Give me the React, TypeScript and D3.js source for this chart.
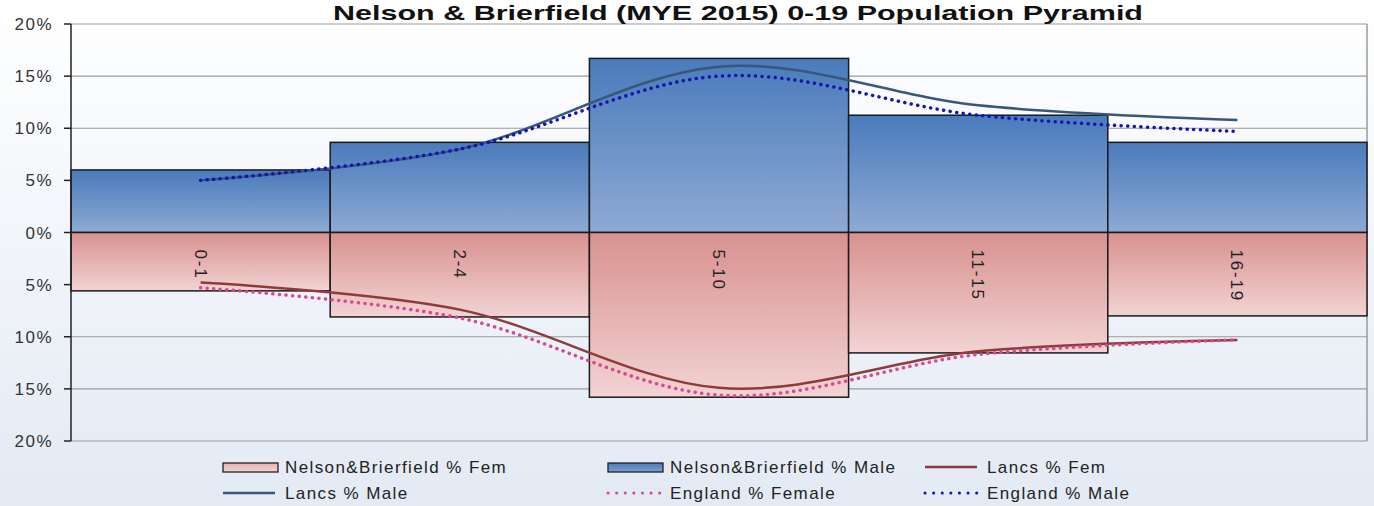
import React from "react";
import * as d3 from "d3";

const categories = ["0-1", "2-4", "5-10", "11-15", "16-19"];
const nbMale = [6.0, 8.65, 16.7, 11.25, 8.65];
const nbFemale = [5.6, 8.1, 15.8, 11.55, 8.0];
const lancsMale = [5.0, 8.0, 15.9, 12.2, 10.8];
const lancsFemale = [4.8, 7.4, 14.9, 11.4, 10.3];
const englandMale = [5.0, 8.0, 15.0, 11.25, 9.7];
const englandFemale = [5.3, 8.2, 15.6, 11.7, 10.3];
const yTicks = [20, 15, 10, 5, 0, -5, -10, -15, -20];
const title = "Nelson & Brierfield (MYE 2015) 0-19 Population Pyramid";

const W = 1374;
const H = 506;
const left = 71;
const right = 1367;
const top = 24;
const bottom = 441;

export default function App() {
  const x = d3.scaleBand<string>().domain(categories).range([left, right]).padding(0);
  const y = d3.scaleLinear().domain([-20, 20]).range([bottom, top]);
  const cx = (c: string) => (x(c) as number) + x.bandwidth() / 2;

  const line = d3
    .line<[string, number]>()
    .x((d) => cx(d[0]))
    .y((d) => y(d[1]))
    .curve(d3.curveCardinal.tension(0));

  const series = (vals: number[], sign: number) =>
    line(categories.map((c, i) => [c, sign * vals[i]] as [string, number])) || "";

  const legend = [
    { label: "Nelson&Brierfield % Fem", type: "rect", fill: "url(#legF)", x: 223, row: 0 },
    { label: "Nelson&Brierfield % Male", type: "rect", fill: "url(#legM)", x: 608, row: 0 },
    { label: "Lancs % Fem", type: "line", color: "#8e3b3b", x: 925, row: 0 },
    { label: "Lancs % Male", type: "line", color: "#37587a", x: 223, row: 1 },
    { label: "England % Female", type: "dot", color: "#d9478f", x: 608, row: 1 },
    { label: "England % Male", type: "dot", color: "#1414b4", x: 925, row: 1 },
  ];

  return (
    <svg
      width={W}
      height={H}
      style={{ position: "absolute", left: 0, top: 0, fontFamily: "Liberation Sans, Arial, sans-serif" }}
    >
      <defs>
        <linearGradient id="bg" x1="0" y1="0" x2="0" y2="1">
          <stop offset="0" stopColor="#ffffff" />
          <stop offset="1" stopColor="#e3eaf4" />
        </linearGradient>
        <linearGradient id="gM" x1="0" y1="0" x2="0" y2="1">
          <stop offset="0" stopColor="#4a7bbb" />
          <stop offset="1" stopColor="#8eaad4" />
        </linearGradient>
        <linearGradient id="gF" x1="0" y1="0" x2="0" y2="1">
          <stop offset="0" stopColor="#d8918f" />
          <stop offset="1" stopColor="#f2d3d3" />
        </linearGradient>
        <linearGradient id="legM" x1="0" y1="0" x2="0" y2="1">
          <stop offset="0" stopColor="#4a7bbb" />
          <stop offset="1" stopColor="#7d9fd0" />
        </linearGradient>
        <linearGradient id="legF" x1="0" y1="0" x2="0" y2="1">
          <stop offset="0" stopColor="#e6b3b1" />
          <stop offset="1" stopColor="#f2d3d3" />
        </linearGradient>
      </defs>
      <rect x={0} y={0} width={W} height={H} fill="url(#bg)" />

      {/* gridlines */}
      {yTicks.map((t) => (
        <line key={"g" + t} x1={left} x2={right} y1={y(t)} y2={y(t)} stroke="#9a9a9a" strokeWidth={1.2} />
      ))}
      <line x1={right} x2={right} y1={top} y2={bottom} stroke="#9a9a9a" strokeWidth={1.5} />

      {/* male bars */}
      {categories.map((c, i) => (
        <rect
          key={"m" + c}
          x={x(c)}
          y={y(nbMale[i])}
          width={x.bandwidth()}
          height={y(0) - y(nbMale[i])}
          fill="url(#gM)"
          stroke="#1a1a1a"
          strokeWidth={1.5}
        />
      ))}
      {/* female bars */}
      {categories.map((c, i) => (
        <rect
          key={"f" + c}
          x={x(c)}
          y={y(0)}
          width={x.bandwidth()}
          height={y(-nbFemale[i]) - y(0)}
          fill="url(#gF)"
          stroke="#1a1a1a"
          strokeWidth={1.5}
        />
      ))}

      {/* category labels */}
      {categories.map((c) => (
        <text
          key={"c" + c}
          transform={`translate(${cx(c) - 6},${y(0) + 17}) rotate(90)`}
          fontSize={17}
          letterSpacing={1.8}
          fill="#222"
        >
          {c}
        </text>
      ))}

      {/* lines */}
      <path d={series(lancsMale, 1)} fill="none" stroke="#37587a" strokeWidth={2.5} />
      <path d={series(englandMale, 1)} fill="none" stroke="#1414b4" strokeWidth={3.5} strokeDasharray="0.1 6.5" strokeLinecap="round" />
      <path d={series(lancsFemale, -1)} fill="none" stroke="#8e3b3b" strokeWidth={2.5} />
      <path d={series(englandFemale, -1)} fill="none" stroke="#d9478f" strokeWidth={3.5} strokeDasharray="0.1 6.5" strokeLinecap="round" />

      {/* y axis */}
      <line x1={left} x2={left} y1={top} y2={bottom} stroke="#222" strokeWidth={1.5} />
      {yTicks.map((t) => (
        <g key={"t" + t}>
          <line x1={left - 7} x2={left} y1={y(t)} y2={y(t)} stroke="#222" strokeWidth={1.5} />
          <text x={53} y={y(t) + 6} textAnchor="end" fontSize={17} letterSpacing={1.5} fill="#333">
            {Math.abs(t) + "%"}
          </text>
        </g>
      ))}

      {/* title */}
      <text
        x={738}
        y={20}
        textAnchor="middle"
        fontSize={21}
        fontWeight="bold"
        fill="#111"
        textLength={810}
        lengthAdjust="spacingAndGlyphs"
      >
        {title}
      </text>

      {/* legend */}
      {legend.map((l) => {
        const cy = 467 + l.row * 26;
        return (
          <g key={l.label}>
            {l.type === "rect" && (
              <rect x={l.x} y={cy - 4} width={55} height={9} fill={l.fill} stroke="#222" strokeWidth={1.3} />
            )}
            {l.type === "line" && (
              <line x1={l.x} x2={l.x + 52} y1={cy} y2={cy} stroke={l.color} strokeWidth={2.5} />
            )}
            {l.type === "dot" && (
              <line x1={l.x} x2={l.x + 52} y1={cy} y2={cy} stroke={l.color} strokeWidth={3} strokeDasharray="0.1 8.5" strokeLinecap="round" />
            )}
            <text x={l.x + 62} y={cy + 6} fontSize={17} letterSpacing={1.4} fill="#222">
              {l.label}
            </text>
          </g>
        );
      })}
    </svg>
  );
}
